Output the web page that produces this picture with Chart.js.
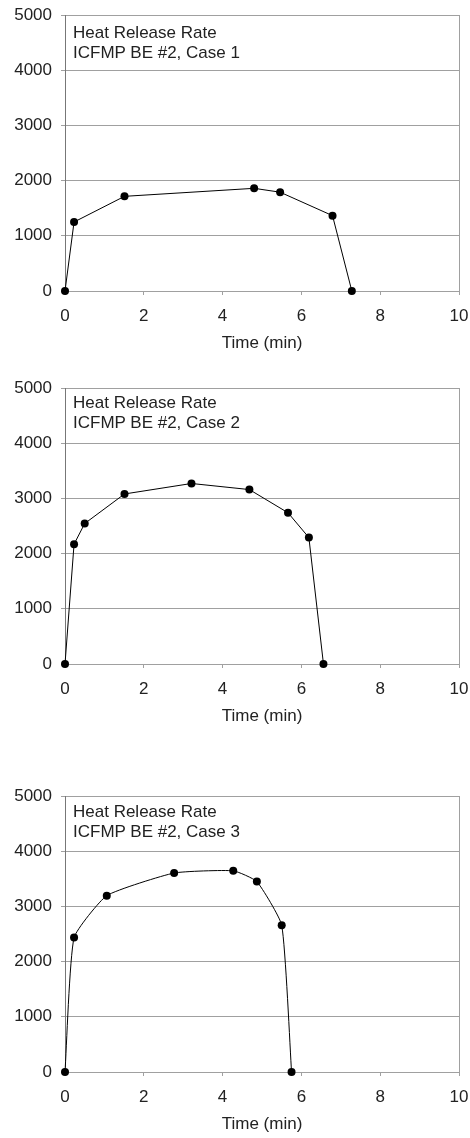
<!DOCTYPE html>
<html>
<head>
<meta charset="utf-8">
<script src="https://cdn.jsdelivr.net/npm/chart.js@4/dist/chart.umd.min.js"></script>
<style>
  body { margin: 0; background: #fff; width: 470px; height: 1138px; position: relative; overflow: hidden; }
  canvas { position: absolute; left: 0; }
  .note {
    position: absolute; left: 73px;
    font-family: "Liberation Sans", Arial, sans-serif; font-size: 17px;
    line-height: 20px; color: #222; white-space: nowrap;
  }
</style>
</head>
<body>
<canvas id="chart1" width="470" height="354" style="top:0px"></canvas>
<canvas id="chart2" width="470" height="354" style="top:373px"></canvas>
<canvas id="chart3" width="470" height="354" style="top:781px"></canvas>
<div class="note" style="top:23px">Heat Release Rate<br>ICFMP BE #2, Case 1</div>
<div class="note" style="top:393px">Heat Release Rate<br>ICFMP BE #2, Case 2</div>
<div class="note" style="top:802px">Heat Release Rate<br>ICFMP BE #2, Case 3</div>
<script>
// Time (min) and heat release rate (kW)
const case1Time = [0, 0.23, 1.51, 4.80, 5.46, 6.79, 7.28];
const case1Hrr = [0, 1250, 1715, 1860, 1790, 1365, 0];

const case2Time = [0, 0.23, 0.50, 1.51, 3.21, 4.68, 5.66, 6.19, 6.56];
const case2Hrr = [0, 2170, 2545, 3080, 3270, 3160, 2740, 2290, 0];

const case3Time = [0, 0.23, 1.06, 2.77, 4.27, 4.87, 5.50, 5.75];
const case3Hrr = [0, 2435, 3195, 3605, 3645, 3450, 2660, 0];

// Axis ticks
const xTicks = [0, 2, 4, 6, 8, 10];
const yTicks = [0, 1000, 2000, 3000, 4000, 5000];

const xTitle = 'Time (min)';

const fontFamily = '"Liberation Sans", Arial, sans-serif';
const gridGray = '#a0a0a0';

// Build one of the three panels
function makeChart(id, times, values, tension) {
  const ctx = document.getElementById(id).getContext('2d');
  return new Chart(ctx, {
    type: 'scatter',
    data: {
      datasets: [{
        data: times.map((t, i) => ({ x: t, y: values[i] })),
        showLine: true,
        clip: false,
        borderColor: '#000',
        borderWidth: 1,
        backgroundColor: '#000',
        pointRadius: 4,
        pointBorderWidth: 0,
        tension: tension
      }]
    },
    options: {
      responsive: false,
      animation: false,
      events: [],
      layout: { padding: { left: 0, right: 11, top: 15, bottom: 0 } },
      plugins: { legend: { display: false }, tooltip: { enabled: false } },
      scales: {
        x: {
          type: 'linear',
          min: 0,
          max: 10,
          afterBuildTicks: (axis) => { axis.ticks = xTicks.map(v => ({ value: v })); },
          afterFit: (axis) => {
            axis.height = 63;
            // keep the end tick labels from pushing the plot edges inwards
            axis.paddingLeft = 0;
            axis.paddingRight = 0;
          },
          ticks: {
            color: '#222', padding: 11,
            font: { family: fontFamily, size: 17 },
            callback: (v) => String(v)
          },
          grid: {
            color: (c) => (c.tick && c.tick.value === 10 ? gridGray : 'transparent'),
            tickColor: gridGray,
            tickLength: 4
          },
          border: { color: gridGray, width: 1 },
          title: {
            display: true,
            text: xTitle,
            color: '#222',
            padding: { top: 4, bottom: 0 },
            font: { family: fontFamily, size: 17 }
          }
        },
        y: {
          min: 0,
          max: 5000,
          afterBuildTicks: (axis) => { axis.ticks = yTicks.map(v => ({ value: v })); },
          afterFit: (axis) => {
            axis.width = 65;
            axis.paddingTop = 0;
            axis.paddingBottom = 0;
          },
          ticks: {
            color: '#222', padding: 9,
            font: { family: fontFamily, size: 17 },
            callback: (v) => String(v)
          },
          grid: { color: gridGray, tickColor: gridGray, tickLength: 4 },
          border: { color: '#777', width: 1 }
        }
      }
    }
  });
}

makeChart('chart1', case1Time, case1Hrr, 0);
makeChart('chart2', case2Time, case2Hrr, 0);
makeChart('chart3', case3Time, case3Hrr, 0.15);
</script>
</body>
</html>
